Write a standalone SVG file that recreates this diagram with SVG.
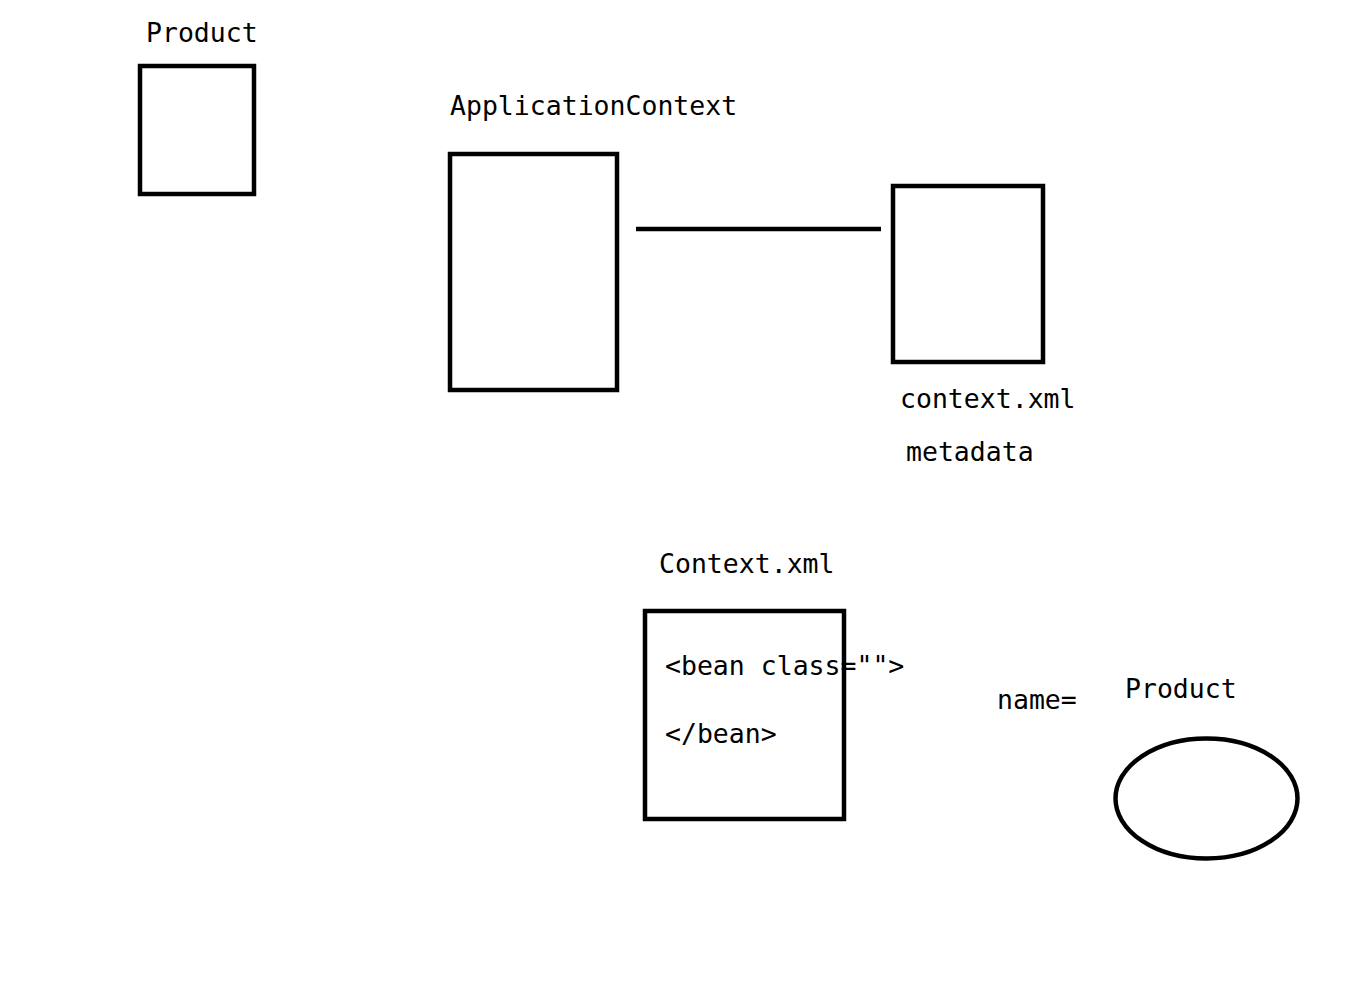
<svg xmlns="http://www.w3.org/2000/svg" width="1360" height="999" viewBox="0 0 1360 999">
<style>
.s{fill:none;stroke:#000;stroke-width:4.5}
.t{font-family:"DejaVu Sans Mono","Liberation Mono",monospace;font-size:26.5px;fill:#000}
</style>
<rect width="1360" height="999" fill="#fff"/>
<g id="product-box"><rect class="s" x="140" y="66" width="114" height="128"/><text class="t" x="146" y="42">Product</text></g>
<g id="application-context"><rect class="s" x="450" y="154" width="167" height="236"/><text class="t" x="450" y="115">ApplicationContext</text></g>
<g id="context-xml-metadata"><rect class="s" x="893" y="186" width="150" height="176"/><text class="t" x="900" y="408">context.xml</text><text class="t" x="906" y="461">metadata</text></g>
<g id="context-xml"><rect class="s" x="645" y="611" width="199" height="208"/><text class="t" x="659" y="573">Context.xml</text><text class="t" x="665" y="675">&lt;bean class=""&gt;</text><text class="t" x="665" y="743">&lt;/bean&gt;</text></g>
<g id="product-ellipse"><ellipse class="s" cx="1206.5" cy="798.5" rx="91" ry="60"/><text class="t" x="1125" y="698">Product</text></g>
<g id="name-label"><text class="t" x="997" y="709">name=</text></g>
<g id="connectors"><line class="s" x1="636" y1="229" x2="881" y2="229"/></g>
</svg>
